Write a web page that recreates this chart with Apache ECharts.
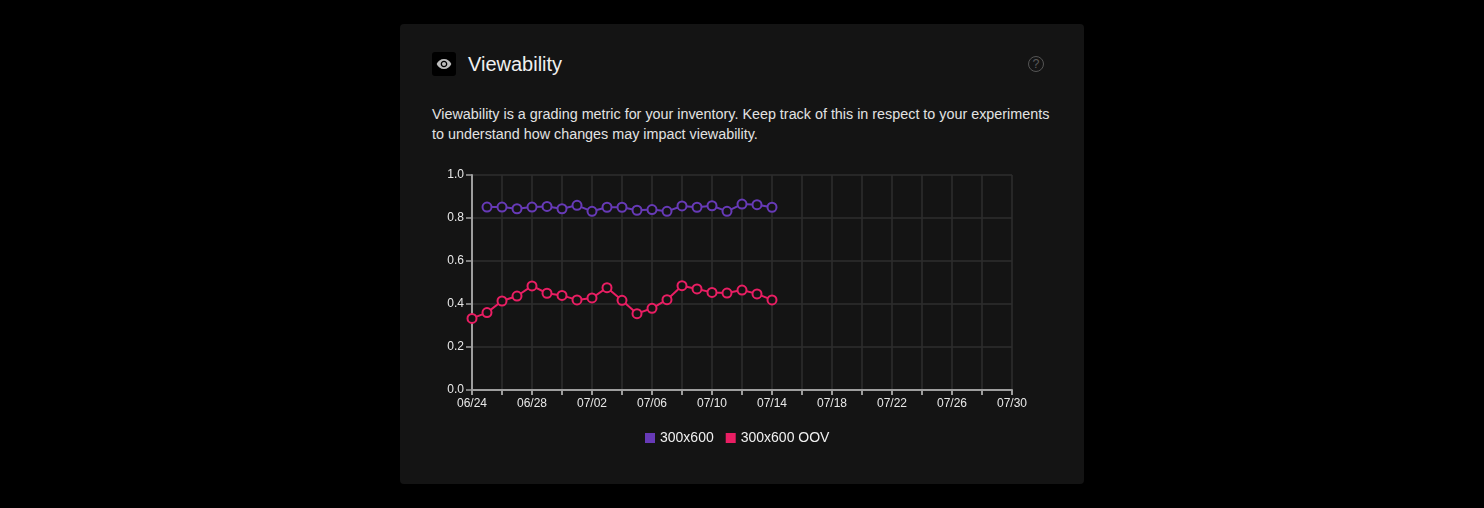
<!DOCTYPE html>
<html>
<head>
<meta charset="utf-8">
<script src="https://cdn.jsdelivr.net/npm/echarts@6/dist/echarts.min.js"></script>
<style>
  html, body { margin:0; padding:0; background:#000; width:1484px; height:508px; overflow:hidden; font-family:"Liberation Sans", Arial, Helvetica, sans-serif; }
  .card { position:absolute; left:400px; top:24px; width:684px; height:460px; background:#141414; border-radius:4px; }
  .iconbox { position:absolute; left:32px; top:28px; width:24px; height:24px; background:#000; border-radius:3px; }
  .iconbox svg { position:absolute; left:4px; top:4px; }
  .title { position:absolute; left:68px; top:27px; font-size:20px; line-height:26px; color:#f0f0f0; white-space:nowrap; }
  .help { position:absolute; left:628px; top:32px; width:14px; height:14px; border:1.6px solid #555; border-radius:50%; color:#5a5a5a; font-size:12.5px; line-height:14px; text-align:center; }
  .desc { position:absolute; left:32px; top:80px; font-size:14.35px; line-height:20px; color:#e2e2e2; white-space:nowrap; }
  #chart { position:absolute; left:400px; top:160px; width:684px; height:310px; }
</style>
</head>
<body>
<div class="card">
  <div class="iconbox">
    <svg width="16" height="16" viewBox="0 0 24 24"><path fill="#bdbdbd" d="M12 4.5C7 4.5 2.730 7.61 1 12c1.73 4.39 6 7.5 11 7.5s9.27-3.11 11-7.5c-1.73-4.39-6-7.5-11-7.5zM12 17c-2.76 0-5-2.24-5-5s2.24-5 5-5 5 2.24 5 5-2.240 5-5 5zm0-8c-1.66 0-3 1.34-3 3s1.34 3 3 3 3-1.34 3-3-1.34-3-3-3z"/></svg>
  </div>
  <div class="title">Viewability</div>
  <div class="help">?</div>
  <div class="desc">Viewability is a grading metric for your inventory. Keep track of this in respect to your experiments<br>to understand how changes may impact viewability.</div>
</div>
<div id="chart"></div>
<script>
const categories = ["06/24","06/25","06/26","06/27","06/28","06/29","06/30","07/01","07/02","07/03","07/04","07/05","07/06","07/07","07/08","07/09","07/10","07/11","07/12","07/13","07/14","07/15","07/16","07/17","07/18","07/19","07/20","07/21","07/22","07/23","07/24","07/25","07/26","07/27","07/28","07/29","07/30"];
const seriesNames = ["300x600", "300x600 OOV"];
const values300x600 = [null,0.851,0.851,0.843,0.851,0.854,0.843,0.859,0.831,0.850,0.850,0.836,0.839,0.831,0.856,0.850,0.857,0.831,0.865,0.862,0.850];
const values300x600OOV = [0.333,0.360,0.414,0.437,0.484,0.450,0.440,0.419,0.428,0.476,0.417,0.355,0.380,0.420,0.485,0.470,0.454,0.451,0.465,0.447,0.419];
const yTicks = { min:0, max:1, interval:0.2 };
const colors = ["#673ab7", "#e91e63"];

const chart = echarts.init(document.getElementById('chart'));
function mkSeries(name, data, color) {
  return {
    name, type:'line', data,
    symbol:'circle', symbolSize:9,
    lineStyle:{ color, width:2 },
    itemStyle:{ color:'#141414', borderColor:color, borderWidth:2 },
    emphasis:{ disabled:true },
    animation:false
  };
}
chart.setOption({
  backgroundColor:'transparent',
  animation:false,
  textStyle:{ fontFamily:'"Liberation Sans", Arial, sans-serif' },
  grid:{ left:72, right:72, top:15, bottom:80 },
  legend:{
    bottom:20, left:240, icon:'rect', itemWidth:10, itemHeight:10, itemGap:12,
    textStyle:{ color:'#f0f0f0', fontSize:14 },
    data:[
      { name:seriesNames[0], itemStyle:{ color:colors[0], borderWidth:0 } },
      { name:seriesNames[1], itemStyle:{ color:colors[1], borderWidth:0 } }
    ],
    selectedMode:false
  },
  xAxis:{
    type:'category', data:categories, boundaryGap:false,
    axisLine:{ lineStyle:{ color:'#9e9e9e', width:2 } },
    axisTick:{ interval:1, length:5, lineStyle:{ color:'#9e9e9e', width:2 } },
    axisLabel:{ interval:3, color:'#e8e8e8', fontSize:12, margin:8 },
    splitLine:{ show:true, interval:1, lineStyle:{ color:'#2e2e2e', width:1.5 } }
  },
  yAxis:{
    type:'value', min:yTicks.min, max:yTicks.max, interval:yTicks.interval,
    axisLine:{ show:true, lineStyle:{ color:'#9e9e9e', width:2 } },
    axisTick:{ show:true, length:6, lineStyle:{ color:'#9e9e9e', width:1.5 } },
    axisLabel:{ color:'#e8e8e8', fontSize:12, margin:8, formatter:v => v.toFixed(1) },
    splitLine:{ show:true, lineStyle:{ color:'#2e2e2e', width:1.5 } }
  },
  series:[
    mkSeries(seriesNames[0], values300x600, colors[0]),
    mkSeries(seriesNames[1], values300x600OOV, colors[1])
  ]
});
</script>
</body>
</html>
